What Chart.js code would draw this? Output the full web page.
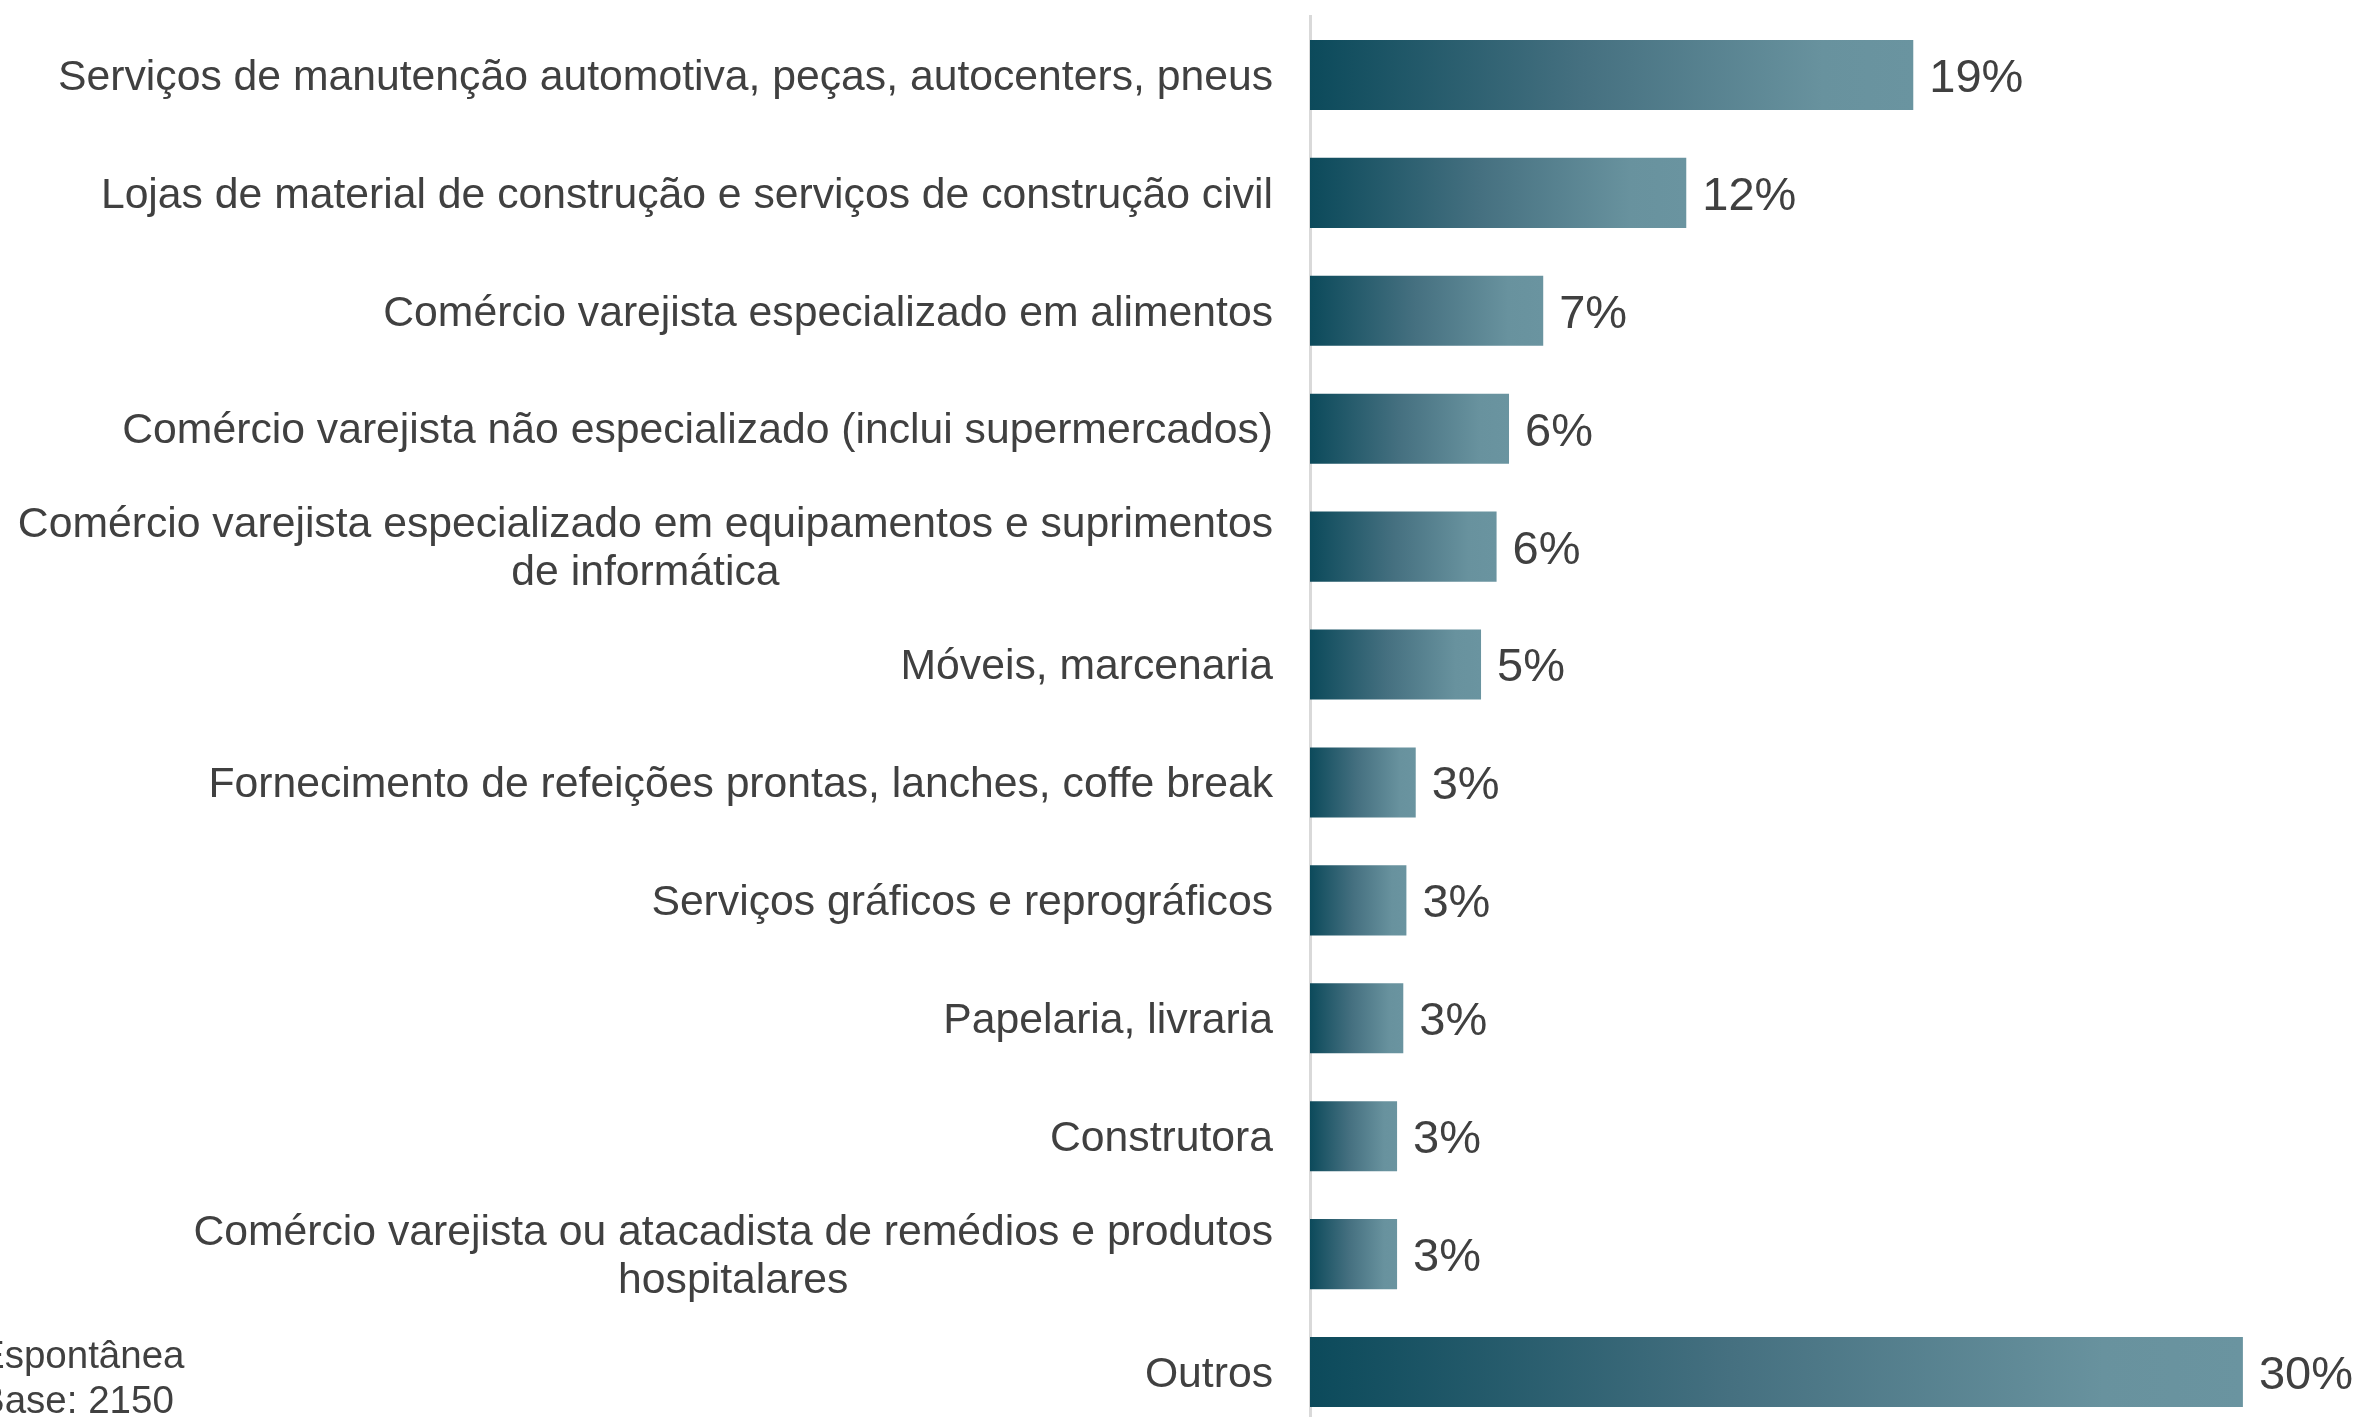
<!DOCTYPE html>
<html>
<head>
<meta charset="utf-8">
<script src="https://cdn.jsdelivr.net/npm/chart.js@4.4.0/dist/chart.umd.min.js"></script>
<style>
  html, body { margin: 0; padding: 0; background: #ffffff; overflow: hidden; }
  canvas { display: block; }
</style>
</head>
<body>
<canvas id="chart" width="2362" height="1431"></canvas>
<script>
  // Category labels (arrays = line breaks)
  const categories = [
    'Serviços de manutenção automotiva, peças, autocenters, pneus',
    'Lojas de material de construção e serviços de construção civil',
    'Comércio varejista especializado em alimentos',
    'Comércio varejista não especializado (inclui supermercados)',
    ['Comércio varejista especializado em equipamentos e suprimentos', 'de informática'],
    'Móveis, marcenaria',
    'Fornecimento de refeições prontas, lanches, coffe break',
    'Serviços gráficos e reprográficos',
    'Papelaria, livraria',
    'Construtora',
    ['Comércio varejista ou atacadista de remédios e produtos', 'hospitalares'],
    'Outros'
  ];

  // Percentages
  const values = [19.4, 12.1, 7.5, 6.4, 6.0, 5.5, 3.4, 3.1, 3.0, 2.8, 2.8, 30.0];

  // Printed value labels
  const valueLabels = ['19%', '12%', '7%', '6%', '6%', '5%', '3%', '3%', '3%', '3%', '3%', '30%'];

  const footnote = ['Espontânea', 'Base: 2150'];

  const FONT = '"Liberation Sans", Arial, sans-serif';
  const TEXT = '#404040';

  function barGradient(context) {
    const chart = context.chart;
    const xScale = chart.scales.x;
    if (!chart.chartArea || !xScale || context.raw == null) return '#3c6f7d';
    const x0 = xScale.getPixelForValue(0);
    const x1 = xScale.getPixelForValue(context.raw);
    const g = chart.ctx.createLinearGradient(x0, 0, x1, 0);
    g.addColorStop(0, '#0c4a5b');
    g.addColorStop(0.45, '#457080');
    g.addColorStop(0.85, '#68929e');
    g.addColorStop(1, '#6a94a0');
    return g;
  }

  // Right-aligned label blocks, each line centred inside its block
  const categoryLabels = {
    id: 'categoryLabels',
    afterDraw(chart) {
      const ctx = chart.ctx;
      const yScale = chart.scales.y;
      const rightEdge = 1273;
      const lineH = 48;
      ctx.save();
      ctx.font = '42.7px ' + FONT;
      ctx.fillStyle = TEXT;
      ctx.textAlign = 'center';
      ctx.textBaseline = 'middle';
      categories.forEach((label, i) => {
        const lines = Array.isArray(label) ? label : [label];
        const blockW = Math.max(...lines.map(l => ctx.measureText(l).width));
        const cx = rightEdge - blockW / 2;
        const cy = yScale.getPixelForValue(i) + 3;
        lines.forEach((line, j) => {
          const y = cy + (j - (lines.length - 1) / 2) * lineH;
          ctx.fillText(line, cx, y);
        });
      });
      ctx.restore();
    }
  };

  const valueLabelPlugin = {
    id: 'valueLabels',
    afterDatasetsDraw(chart) {
      const ctx = chart.ctx;
      const meta = chart.getDatasetMeta(0);
      ctx.save();
      ctx.font = '47px ' + FONT;
      ctx.fillStyle = TEXT;
      ctx.textAlign = 'left';
      ctx.textBaseline = 'middle';
      meta.data.forEach((bar, i) => {
        ctx.fillText(valueLabels[i], bar.x + 16, bar.y + 4);
      });
      ctx.restore();
    }
  };

  const footnotePlugin = {
    id: 'footnote',
    afterDraw(chart) {
      const ctx = chart.ctx;
      ctx.save();
      ctx.font = '38.5px ' + FONT;
      ctx.fillStyle = TEXT;
      ctx.textAlign = 'left';
      ctx.textBaseline = 'middle';
      ctx.fillText(footnote[0], -21, 1357);
      ctx.fillText(footnote[1], -21, 1402);
      ctx.restore();
    }
  };

  new Chart(document.getElementById('chart'), {
    type: 'bar',
    data: {
      labels: categories,
      datasets: [{
        data: values,
        backgroundColor: barGradient,
        borderWidth: 0,
        categoryPercentage: 1,
        barPercentage: 0.594
      }]
    },
    options: {
      indexAxis: 'y',
      responsive: false,
      animation: false,
      layout: { padding: { top: 16, bottom: 0, left: 0, right: 0 } },
      plugins: {
        legend: { display: false },
        tooltip: { enabled: false }
      },
      scales: {
        x: {
          display: false,
          min: 0,
          max: 33.83
        },
        y: {
          grid: { display: false },
          border: { display: true, color: '#d9d9d9', width: 3 },
          ticks: { display: false },
          afterFit(scale) { scale.width = 1310; }
        }
      }
    },
    plugins: [categoryLabels, valueLabelPlugin, footnotePlugin]
  });
</script>
</body>
</html>
